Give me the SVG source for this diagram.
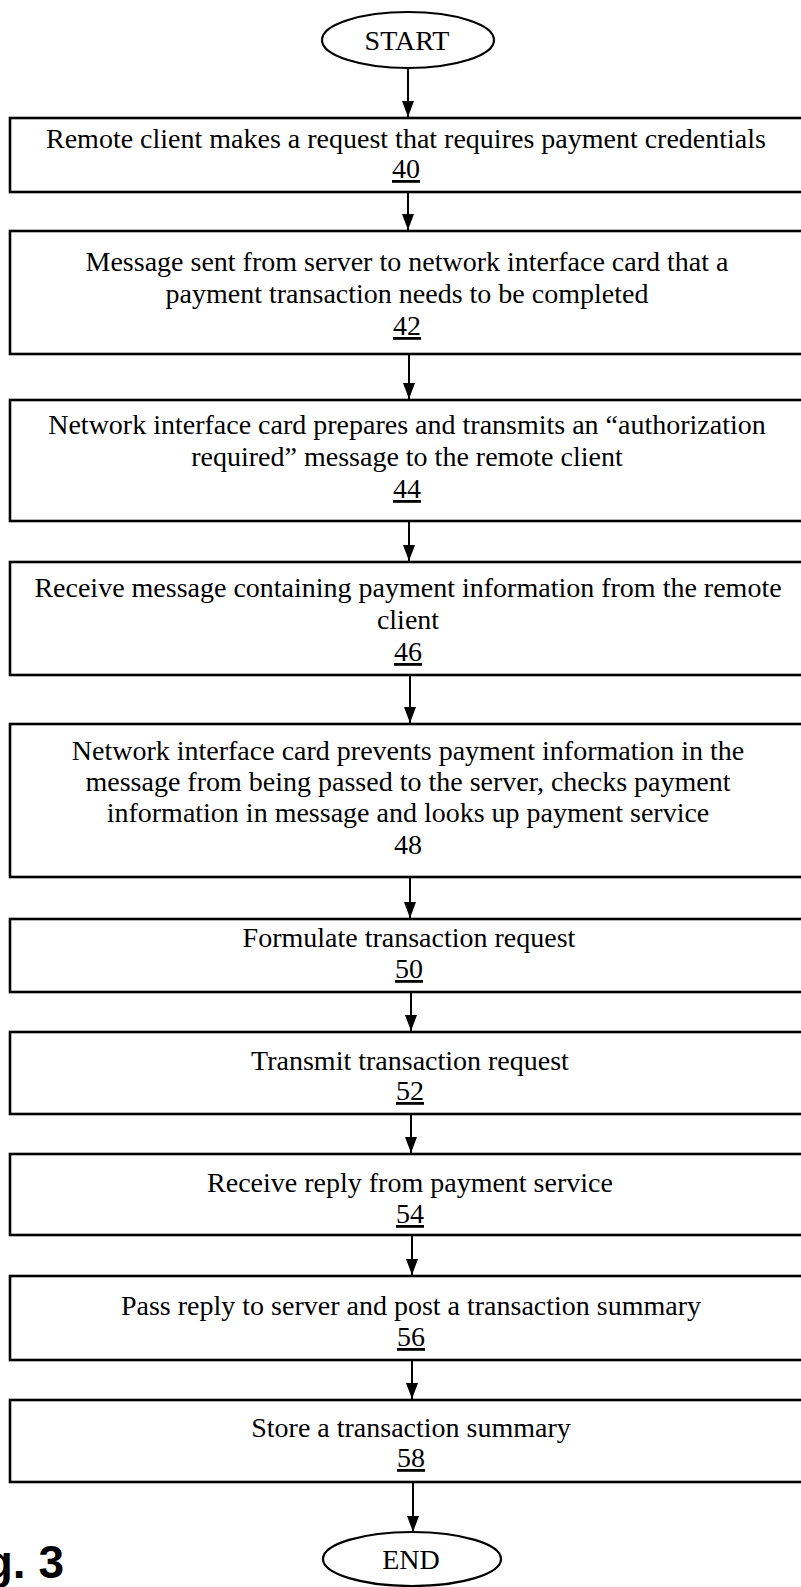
<svg xmlns="http://www.w3.org/2000/svg" width="801" height="1587" viewBox="0 0 801 1587">
  <style>
    .box { fill: #fff; stroke: #000; stroke-width: 2.6; }
    .term { fill: #fff; stroke: #000; stroke-width: 2.2; }
    .t { font-family: "Liberation Serif", "Times New Roman", serif; font-size: 28px; fill: #000; text-anchor: middle; }
    .ref { text-decoration: underline; }
    .edge { stroke: #000; stroke-width: 2; fill: none; marker-end: url(#arrow); }
    .fig { font-family: "Liberation Sans", Arial, sans-serif; font-weight: bold; font-size: 46px; fill: #000; text-anchor: end; }
  </style>
  <defs>
    <!-- solid arrowhead, tip at the end of the line -->
    <marker id="arrow" markerWidth="16" markerHeight="12" refX="16" refY="6" orient="auto" markerUnits="userSpaceOnUse" viewBox="0 0 16 12">
      <path d="M0,0 L16,6 L0,12 Z" fill="#000"/>
    </marker>
  </defs>
  <rect width="801" height="1587" fill="#fff"/>

  <!-- connectors -->
  <g id="connectors">
    <line class="edge" x1="408" y1="68" x2="408" y2="117"/>
    <line class="edge" x1="408" y1="192" x2="408" y2="230"/>
    <line class="edge" x1="409" y1="355" x2="409" y2="399"/>
    <line class="edge" x1="409" y1="522" x2="409" y2="561"/>
    <line class="edge" x1="410" y1="676" x2="410" y2="723"/>
    <line class="edge" x1="410" y1="878" x2="410" y2="918"/>
    <line class="edge" x1="411" y1="993" x2="411" y2="1031"/>
    <line class="edge" x1="411" y1="1115" x2="411" y2="1153"/>
    <line class="edge" x1="412" y1="1236" x2="412" y2="1275"/>
    <line class="edge" x1="412" y1="1361" x2="412" y2="1399"/>
    <line class="edge" x1="413" y1="1483" x2="413" y2="1532"/>
  </g>

  <g id="start">
    <ellipse class="term" cx="408" cy="40" rx="86" ry="28"/>
    <text class="t" x="407" y="50" font-size="27">START</text>
  </g>

  <g id="step40">
    <rect class="box" x="10" y="118" width="800" height="74"/>
    <text class="t" x="406" y="148">Remote client makes a request that requires payment credentials</text>
    <text class="t ref" x="406" y="178">40</text>
  </g>

  <g id="step42">
    <rect class="box" x="10" y="231" width="800" height="123"/>
    <text class="t" x="407" y="271">Message sent from server to network interface card that a</text>
    <text class="t" x="407" y="303">payment transaction needs to be completed</text>
    <text class="t ref" x="407" y="335">42</text>
  </g>

  <g id="step44">
    <rect class="box" x="10" y="400" width="800" height="121"/>
    <text class="t" x="407" y="434">Network interface card prepares and transmits an “authorization</text>
    <text class="t" x="407" y="466">required” message to the remote client</text>
    <text class="t ref" x="407" y="498">44</text>
  </g>

  <g id="step46">
    <rect class="box" x="10" y="562" width="800" height="113"/>
    <text class="t" x="408" y="597">Receive message containing payment information from the remote</text>
    <text class="t" x="408" y="629">client</text>
    <text class="t ref" x="408" y="661">46</text>
  </g>

  <g id="step48">
    <rect class="box" x="10" y="724" width="800" height="153"/>
    <text class="t" x="408" y="760">Network interface card prevents payment information in the</text>
    <text class="t" x="408" y="791">message from being passed to the server, checks payment</text>
    <text class="t" x="408" y="822">information in message and looks up payment service</text>
    <text class="t" x="408" y="854">48</text>
  </g>

  <g id="step50">
    <rect class="box" x="10" y="919" width="800" height="73"/>
    <text class="t" x="409" y="947">Formulate transaction request</text>
    <text class="t ref" x="409" y="978">50</text>
  </g>

  <g id="step52">
    <rect class="box" x="10" y="1032" width="800" height="82"/>
    <text class="t" x="410" y="1070">Transmit transaction request</text>
    <text class="t ref" x="410" y="1100">52</text>
  </g>

  <g id="step54">
    <rect class="box" x="10" y="1154" width="800" height="81"/>
    <text class="t" x="410" y="1192">Receive reply from payment service</text>
    <text class="t ref" x="410" y="1223">54</text>
  </g>

  <g id="step56">
    <rect class="box" x="10" y="1276" width="800" height="84"/>
    <text class="t" x="411" y="1315">Pass reply to server and post a transaction summary</text>
    <text class="t ref" x="411" y="1346">56</text>
  </g>

  <g id="step58">
    <rect class="box" x="10" y="1400" width="800" height="82"/>
    <text class="t" x="411" y="1437">Store a transaction summary</text>
    <text class="t ref" x="411" y="1467">58</text>
  </g>

  <g id="end">
    <ellipse class="term" cx="412" cy="1559" rx="89" ry="27"/>
    <text class="t" x="411" y="1569">END</text>
  </g>

  <text class="fig" x="64" y="1578">Fig. 3</text>
</svg>
